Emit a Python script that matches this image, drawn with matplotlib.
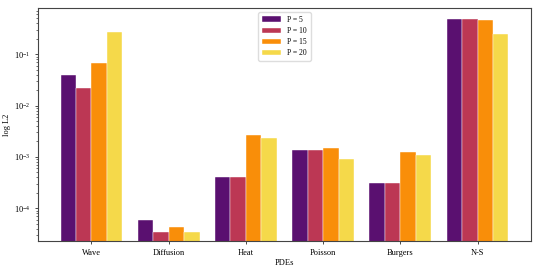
import numpy as np
import matplotlib
matplotlib.use("Agg")
import matplotlib.pyplot as plt

plt.rcParams['font.family'] = ['Liberation Serif', 'DejaVu Serif']
plt.rcParams['mathtext.fontset'] = 'stix'

pdes = ["Wave", "Diffusion", "Heat", "Poisson", "Burgers", "N-S"]
p5 = [0.039, 5.8e-5, 4.1e-4, 1.37e-3, 3.15e-4, 0.48]
p10 = [0.0225, 3.5e-5, 4.1e-4, 1.37e-3, 3.15e-4, 0.48]
p15 = [0.069, 4.4e-5, 2.7e-3, 1.47e-3, 1.25e-3, 0.47]
p20 = [0.27, 3.5e-5, 2.3e-3, 9.0e-4, 1.09e-3, 0.25]
labels = ["P = 5", "P = 10", "P = 15", "P = 20"]
colors = ["#5a1070", "#bc3754", "#f98e09", "#f5d94a"]

x = np.arange(len(pdes))
width = 0.2

fig, ax = plt.subplots(figsize=(5.45, 2.73), dpi=100)
fig.subplots_adjust(left=0.07, right=0.974, top=0.97, bottom=0.117)

for i, (vals, lab, col) in enumerate(zip([p5, p10, p15, p20], labels, colors)):
    ax.bar(x + (i - 1.5) * width, vals, width, label=lab, color=col,
           edgecolor='white', linewidth=0.3)

ax.set_yscale('log')
ax.set_ylim(2.3e-5, 0.79)
ax.set_xticks(x)
ax.set_xticklabels(pdes, fontsize=6)
ax.tick_params(axis='y', labelsize=6)
ax.tick_params(length=2, width=0.5)
ax.tick_params(which='minor', length=1.2, width=0.4)
ax.set_xlabel("PDEs", fontsize=6, labelpad=2)
ax.set_ylabel("log L2", fontsize=6, labelpad=2)
for s in ax.spines.values():
    s.set_linewidth(0.8)
    s.set_color('#444444')
ax.legend(loc='upper center', fontsize=5.5, handlelength=2.5, framealpha=1,
          edgecolor='#dddddd', borderpad=0.5, labelspacing=0.4)

fig.savefig("out.png", dpi=100)
